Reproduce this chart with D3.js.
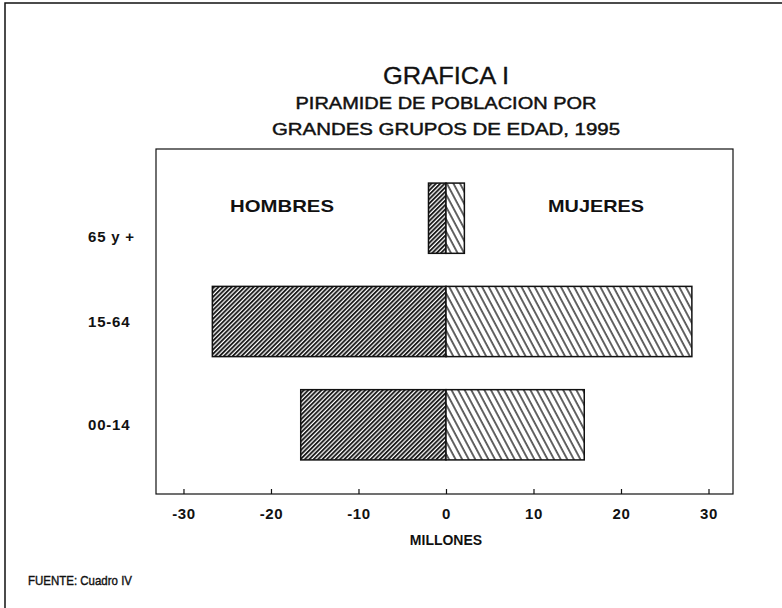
<!DOCTYPE html>
<html>
<head>
<meta charset="utf-8">
<script src="https://cdn.jsdelivr.net/npm/d3@7"></script>
<style>
  html, body { margin: 0; padding: 0; background: #fff; }
  svg { display: block; font-family: "Liberation Sans", Arial, Helvetica, sans-serif; }
</style>
</head>
<body>
<svg id="chart" width="782" height="608"></svg>
<script>
// ---- data ----
const categories = ["00-14", "15-64", "65 y +"];
const hombres = [16.6, 26.7, 2.0];   // millones
const mujeres = [15.8, 28.1, 2.1];   // millones
const xTicks = [-30, -20, -10, 0, 10, 20, 30];
const titleLines = ["GRAFICA I", "PIRAMIDE DE POBLACION POR", "GRANDES GRUPOS DE EDAD, 1995"];
const seriesNames = ["HOMBRES", "MUJERES"];
const axisTitle = "MILLONES";
const sourceText = "FUENTE: Cuadro IV";

(function () {
const svg = d3.select("#chart");
const ink = "#111";

// patterns
const defs = svg.append("defs");
const pm = defs.append("pattern").attr("id", "hatchM").attr("patternUnits", "userSpaceOnUse")
  .attr("width", 3.1).attr("height", 10).attr("patternTransform", "rotate(45)");
pm.append("rect").attr("width", 3.1).attr("height", 10).attr("fill", "#fff");
pm.append("line").attr("x1", 1).attr("y1", 0).attr("x2", 1).attr("y2", 10)
  .attr("stroke", ink).attr("stroke-width", 1.8);
const pw = defs.append("pattern").attr("id", "hatchW").attr("patternUnits", "userSpaceOnUse")
  .attr("width", 5.8).attr("height", 10).attr("patternTransform", "rotate(-28)");
pw.append("rect").attr("width", 5.8).attr("height", 10).attr("fill", "#fff");
pw.append("line").attr("x1", 1).attr("y1", 0).attr("x2", 1).attr("y2", 10)
  .attr("stroke", ink).attr("stroke-width", 1.3);

// outer frame (left + top)
svg.append("path").attr("d", "M5,608 V3 H782").attr("fill", "none").attr("stroke", ink).attr("stroke-width", 1.5);

// titles
function fitText(sel, len) { return sel.attr("textLength", len).attr("lengthAdjust", "spacingAndGlyphs"); }
fitText(svg.append("text").attr("x", 446).attr("y", 84).attr("text-anchor", "middle")
  .attr("font-size", 24).attr("fill", ink).attr("stroke", ink).attr("stroke-width", 0.3)
  .text(titleLines[0]), 126);
fitText(svg.append("text").attr("x", 446).attr("y", 109).attr("text-anchor", "middle")
  .attr("font-size", 17).attr("fill", ink).attr("stroke", ink).attr("stroke-width", 0.45)
  .text(titleLines[1]), 301);
fitText(svg.append("text").attr("x", 446).attr("y", 135).attr("text-anchor", "middle")
  .attr("font-size", 17).attr("fill", ink).attr("stroke", ink).attr("stroke-width", 0.45)
  .text(titleLines[2]), 348);

// scales
const pL = 156, pR = 733, pT = 149, pB = 494;
const x = d3.scaleLinear().domain([-33.14, 32.8]).range([pL, pR]);
const y = d3.scaleBand().domain(categories.slice().reverse()).range([pT, pB])
  .paddingInner(0.32).paddingOuter(0.33);

// frame
svg.append("rect").attr("x", pL).attr("y", pT).attr("width", pR - pL).attr("height", pB - pT)
  .attr("fill", "none").attr("stroke", ink).attr("stroke-width", 1.2);

// bars
const rows = categories.map((c, i) => ({ c, m: hombres[i], w: mujeres[i] }));
svg.append("g").selectAll("rect").data(rows).join("rect")
  .attr("x", d => x(-d.m)).attr("y", d => y(d.c))
  .attr("width", d => x(0) - x(-d.m)).attr("height", y.bandwidth())
  .attr("fill", "url(#hatchM)").attr("stroke", ink).attr("stroke-width", 1.5);
svg.append("g").selectAll("rect").data(rows).join("rect")
  .attr("x", x(0)).attr("y", d => y(d.c))
  .attr("width", d => x(d.w) - x(0)).attr("height", y.bandwidth())
  .attr("fill", "url(#hatchW)").attr("stroke", ink).attr("stroke-width", 1.5);

// x axis
const xAxis = d3.axisBottom(x).tickValues(xTicks).tickSize(-5).tickPadding(14)
  .tickFormat(d => String(d));
const gx = svg.append("g").attr("transform", `translate(0,${pB})`).call(xAxis);
gx.select(".domain").remove();
gx.selectAll(".tick line").attr("stroke", ink).attr("stroke-width", 1.2);
gx.selectAll(".tick text").attr("font-size", 15).attr("font-weight", "bold").attr("fill", ink)
  .attr("letter-spacing", 0.6).attr("font-family", "'Liberation Sans', Arial, sans-serif");

svg.append("text").attr("x", 446).attr("y", 545).attr("text-anchor", "middle")
  .attr("font-size", 14).attr("font-weight", "bold").attr("fill", ink).text(axisTitle);

// y labels (the top label sits lower within its band in the original)
const labelShift = { "65 y +": 18 };
const gy = svg.append("g");
gy.selectAll("text").data(categories).join("text")
  .attr("x", 88).attr("y", d => y(d) + y.bandwidth() / 2 + 5.5 + (labelShift[d] || 0))
  .attr("font-size", 15).attr("font-weight", "bold").attr("fill", ink)
  .attr("letter-spacing", 0.8).text(d => d);

// series labels
fitText(svg.append("text").attr("x", 282).attr("y", 212).attr("text-anchor", "middle")
  .attr("font-size", 17).attr("font-weight", "bold").attr("fill", ink).text(seriesNames[0]), 104);
fitText(svg.append("text").attr("x", 596).attr("y", 212).attr("text-anchor", "middle")
  .attr("font-size", 17).attr("font-weight", "bold").attr("fill", ink).text(seriesNames[1]), 96);

// source
fitText(svg.append("text").attr("x", 28).attr("y", 585).attr("font-size", 13)
  .attr("fill", ink).attr("stroke", ink).attr("stroke-width", 0.4).text(sourceText), 104);
})();
</script>
</body>
</html>
